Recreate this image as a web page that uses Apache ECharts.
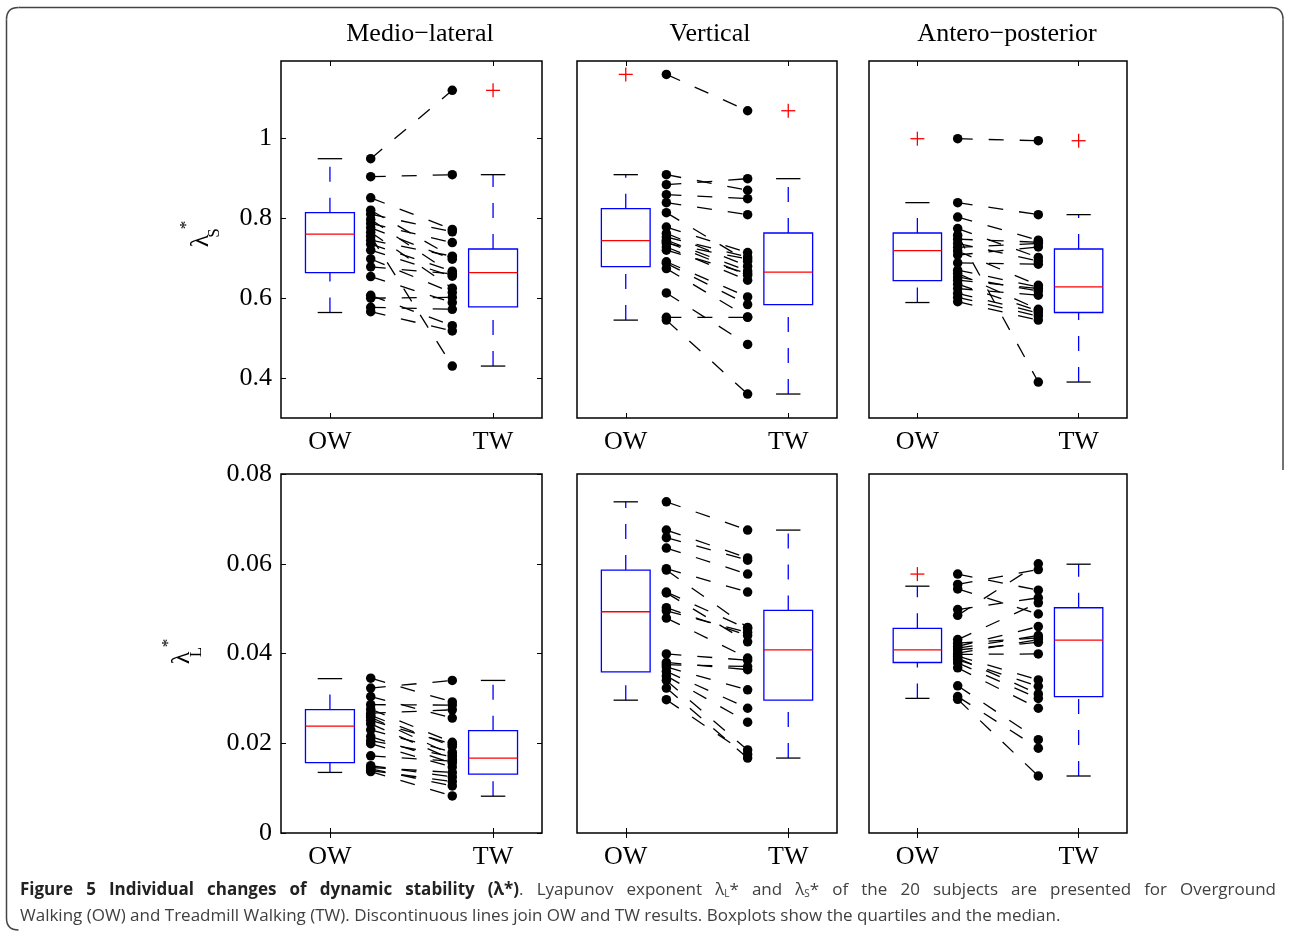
<!DOCTYPE html>
<html>
<head>
<meta charset="utf-8">
<title>Figure 5</title>
<script src="https://cdn.jsdelivr.net/npm/echarts@6/dist/echarts.min.js"></script>
<style>
  html, body { margin: 0; padding: 0; background: #fff; }
  #main { position: absolute; left: 0; top: 0; width: 1289px; height: 934px; }
  #caption {
    position: absolute; left: 20px; top: 876px; width: 1256px;
    font-family: "Open Sans", "Noto Sans", sans-serif; font-size: 17px;
    line-height: 26px; color: #404040;
  }
  #caption .l1 { text-align: justify; text-align-last: justify; }
  #caption b { color: #222; }
  #caption sub { font-size: 10px; vertical-align: -2px; line-height: 0; }
</style>
</head>
<body>
<div id="main"></div>
<div id="caption">
  <div class="l1"><b>Figure 5 Individual changes of dynamic stability (λ*)</b>. Lyapunov exponent λ<sub>L</sub>* and λ<sub>S</sub>* of the 20 subjects are presented for Overground</div>
  <div>Walking (OW) and Treadmill Walking (TW). Discontinuous lines join OW and TW results. Boxplots show the quartiles and the median.</div>
</div>
<script>
// categories and positions along the x axis (OW box at 1, TW box at 2, subject dots between)
var categories = ['OW', 'TW'];
var boxX = [1, 2];
var dotX = [1.25, 1.75];
var panelTitles = ['Medio\u2212lateral', 'Vertical', 'Antero\u2212posterior'];
var yTicksS = [0.4, 0.6, 0.8, 1];
var yTicksL = [0, 0.02, 0.04, 0.06, 0.08];

// lambda_S*, one value per subject (same order in OW and TW)
var owML_S = [0.949, 0.904, 0.851, 0.82, 0.81, 0.797, 0.787, 0.776, 0.765, 0.755, 0.745, 0.735, 0.72, 0.698, 0.678, 0.654, 0.607, 0.600, 0.577, 0.566];
var twML_S = [1.12, 0.909, 0.772, 0.703, 0.766, 0.66, 0.739, 0.6975, 0.625, 0.43, 0.705, 0.6675, 0.655, 0.614, 0.661, 0.589, 0.531, 0.602, 0.572, 0.518];
var owV_S = [1.16, 0.909, 0.884, 0.859, 0.839, 0.814, 0.778, 0.762, 0.753, 0.745, 0.741, 0.737, 0.728, 0.72, 0.691, 0.687, 0.674, 0.613, 0.552, 0.545];
var twV_S = [1.069, 0.87, 0.899, 0.849, 0.809, 0.6925, 0.714, 0.68, 0.703, 0.668, 0.6575, 0.698, 0.645, 0.662, 0.603, 0.584, 0.553, 0.484, 0.552, 0.36];
var owAP_S = [0.999, 0.839, 0.803, 0.774, 0.7575, 0.7475, 0.737, 0.727, 0.718, 0.708, 0.688, 0.67, 0.662, 0.653, 0.645, 0.635, 0.624, 0.612, 0.602, 0.591];
var twAP_S = [0.994, 0.809, 0.745, 0.702, 0.39, 0.74, 0.693, 0.737, 0.632, 0.728, 0.685, 0.628, 0.572, 0.618, 0.624, 0.568, 0.6075, 0.563, 0.555, 0.545];

// lambda_L*
var owML_L = [0.0345, 0.0323, 0.0304, 0.0286, 0.0276, 0.0267, 0.0262, 0.0258, 0.0251, 0.0243, 0.023, 0.0215, 0.0206, 0.0199, 0.0172, 0.015, 0.0146, 0.0143, 0.0139, 0.0137];
var twML_L = [0.0292, 0.034, 0.0256, 0.0285, 0.0202, 0.02745, 0.0193, 0.0174, 0.0198, 0.0164, 0.018, 0.0156, 0.017, 0.0147, 0.016, 0.0125, 0.0135, 0.0105, 0.01145, 0.00826];
var owV_L = [0.0738, 0.0675, 0.0658, 0.0635, 0.0589, 0.0586, 0.0537, 0.0535, 0.0502, 0.0495, 0.0479, 0.0399, 0.038, 0.0375, 0.037, 0.036, 0.035, 0.034, 0.0323, 0.0297];
var twV_L = [0.0675, 0.0613, 0.0608, 0.0577, 0.0537, 0.0458, 0.0455, 0.0426, 0.044, 0.0447, 0.039, 0.0385, 0.0364, 0.0371, 0.0319, 0.0278, 0.0247, 0.0185, 0.0167, 0.0175];
var owAP_L = [0.0577, 0.0554, 0.0544, 0.0498, 0.0485, 0.0431, 0.0423, 0.0416, 0.0412, 0.0408, 0.0401, 0.0398, 0.0394, 0.039, 0.0386, 0.0379, 0.0368, 0.0328, 0.0304, 0.0298];
var twAP_L = [0.0541, 0.0587, 0.0488, 0.0524, 0.06, 0.0513, 0.0435, 0.046, 0.044, 0.0425, 0.0431, 0.0399, 0.0341, 0.031, 0.0327, 0.03, 0.0278, 0.0208, 0.0189, 0.0127];

// boxplots: [lower whisker, Q1, median, Q3, upper whisker]
var boxML_S = [[0.564, 0.664, 0.76, 0.814, 0.949], [0.43, 0.578, 0.664, 0.723, 0.909]];
var boxV_S = [[0.545, 0.679, 0.744, 0.824, 0.909], [0.36, 0.584, 0.665, 0.763, 0.899]];
var boxAP_S = [[0.589, 0.644, 0.719, 0.763, 0.839], [0.39, 0.564, 0.628, 0.723, 0.809]];
var boxML_L = [[0.0135, 0.0157, 0.0238, 0.0275, 0.0344], [0.0082, 0.0131, 0.0167, 0.0228, 0.034]];
var boxV_L = [[0.0296, 0.0359, 0.0493, 0.0586, 0.0738], [0.0167, 0.0296, 0.0408, 0.0496, 0.0675]];
var boxAP_L = [[0.030, 0.038, 0.0408, 0.0456, 0.055], [0.0127, 0.0304, 0.043, 0.0502, 0.0599]];

// outliers [OW list, TW list]
var outML_S = [[], [1.12]];
var outV_S = [[1.16], [1.069]];
var outAP_S = [[0.999], [0.994]];
var outML_L = [[], []];
var outV_L = [[], []];
var outAP_L = [[0.0577], []];

var panels = [
  { ow: owML_S, tw: twML_S, box: boxML_S, out: outML_S },
  { ow: owV_S, tw: twV_S, box: boxV_S, out: outV_S },
  { ow: owAP_S, tw: twAP_S, box: boxAP_S, out: outAP_S },
  { ow: owML_L, tw: twML_L, box: boxML_L, out: outML_L },
  { ow: owV_L, tw: twV_L, box: boxV_L, out: outV_L },
  { ow: owAP_L, tw: twAP_L, box: boxAP_L, out: outAP_L }
];

// layout
var gridLeft = [281, 577, 869];
var gridWidth = [261, 260, 258];
var rowTop = [61, 474];
var rowHeight = [357, 359];
var yRange = [[0.3, 1.1935], [0, 0.08]];
var SERIF = '"Liberation Serif", "Times New Roman", serif';
var BLUE = '#0000ff', RED = '#ff0000';
var DASH = [15, 16];
var BOX_HALF = 0.15, CAP_HALF = 0.075;

function renderBox(params, api) {
  var x = api.value(0);
  var low = api.coord([x, api.value(1)]);
  var q1 = api.coord([x, api.value(2)]);
  var med = api.coord([x, api.value(3)]);
  var q3 = api.coord([x, api.value(4)]);
  var high = api.coord([x, api.value(5)]);
  var hw = api.size([BOX_HALF, 0])[0];
  var cw = api.size([CAP_HALF, 0])[0];
  var cx = med[0];
  var lw = 1.3;
  return { type: 'group', children: [
    { type: 'line', shape: { x1: cx, y1: q3[1], x2: cx, y2: high[1] }, style: { stroke: BLUE, lineWidth: lw, lineDash: DASH } },
    { type: 'line', shape: { x1: cx, y1: low[1], x2: cx, y2: q1[1] }, style: { stroke: BLUE, lineWidth: lw, lineDash: DASH } },
    { type: 'line', shape: { x1: cx - cw, y1: high[1], x2: cx + cw, y2: high[1] }, style: { stroke: '#000', lineWidth: lw } },
    { type: 'line', shape: { x1: cx - cw, y1: low[1], x2: cx + cw, y2: low[1] }, style: { stroke: '#000', lineWidth: lw } },
    { type: 'rect', shape: { x: cx - hw, y: q3[1], width: 2 * hw, height: q1[1] - q3[1] }, style: { fill: 'none', stroke: BLUE, lineWidth: lw } },
    { type: 'line', shape: { x1: cx - hw, y1: med[1], x2: cx + hw, y2: med[1] }, style: { stroke: RED, lineWidth: lw } }
  ] };
}

function renderPair(params, api) {
  var a = api.coord([api.value(0), api.value(1)]);
  var b = api.coord([api.value(2), api.value(3)]);
  return { type: 'line', shape: { x1: a[0], y1: a[1], x2: b[0], y2: b[1] },
    style: { stroke: '#000', lineWidth: 1.3, lineDash: DASH } };
}

function renderPlus(params, api) {
  var p = api.coord([api.value(0), api.value(1)]);
  var s = 7;
  return { type: 'group', children: [
    { type: 'line', shape: { x1: p[0] - s, y1: p[1], x2: p[0] + s, y2: p[1] }, style: { stroke: RED, lineWidth: 1.3 } },
    { type: 'line', shape: { x1: p[0], y1: p[1] - s, x2: p[0], y2: p[1] + s }, style: { stroke: RED, lineWidth: 1.3 } }
  ] };
}

var grids = [], xAxes = [], yAxes = [], series = [];
var tickStyle = { show: true, inside: true, length: 5, lineStyle: { color: '#000', width: 1 } };

panels.forEach(function (p, i) {
  var row = Math.floor(i / 3), col = i % 3;
  var ticks = row === 0 ? yTicksS : yTicksL;
  var withY = col === 0;
  grids.push({ left: gridLeft[col], top: rowTop[row], width: gridWidth[col], height: rowHeight[row],
    show: true, borderColor: '#000', borderWidth: 1.5, backgroundColor: 'transparent' });

  var xBase = { gridIndex: i, type: 'value', min: 0.7, max: 2.3, axisLine: { show: false }, splitLine: { show: false },
    axisTick: Object.assign({ customValues: boxX }, tickStyle) };
  xAxes.push(Object.assign({}, xBase, { position: 'bottom',
    axisLabel: { customValues: boxX, margin: 11, fontFamily: SERIF, fontSize: 26, color: '#000',
      formatter: function (v) { return categories[boxX.indexOf(v)]; } } }));
  xAxes.push(Object.assign({}, xBase, { position: 'top', axisLabel: { show: false } }));

  var yBase = { gridIndex: i, type: 'value', min: yRange[row][0], max: yRange[row][1],
    axisLine: { show: false }, splitLine: { show: false },
    axisTick: withY ? Object.assign({ customValues: ticks }, tickStyle) : { show: false } };
  yAxes.push(Object.assign({}, yBase, { position: 'left',
    axisLabel: withY ? { customValues: ticks, margin: 9, fontFamily: SERIF, fontSize: 26, color: '#000' } : { show: false } }));
  yAxes.push(Object.assign({}, yBase, { position: 'right', axisLabel: { show: false } }));

  var xi = 2 * i, yi = 2 * i;
  series.push({ type: 'custom', xAxisIndex: xi, yAxisIndex: yi, renderItem: renderPair, z: 2,
    encode: { x: [0, 2], y: [1, 3] },
    data: p.ow.map(function (v, k) { return [dotX[0], v, dotX[1], p.tw[k]]; }) });
  series.push({ type: 'scatter', xAxisIndex: xi, yAxisIndex: yi, symbol: 'circle', symbolSize: 9.5, z: 3,
    itemStyle: { color: '#000', opacity: 1 },
    data: p.ow.map(function (v) { return [dotX[0], v]; }).concat(p.tw.map(function (v) { return [dotX[1], v]; })) });
  series.push({ type: 'custom', xAxisIndex: xi, yAxisIndex: yi, renderItem: renderBox, z: 2,
    encode: { x: 0, y: [1, 2, 3, 4, 5] },
    data: p.box.map(function (b, k) { return [boxX[k]].concat(b); }) });
  var outs = [];
  p.out.forEach(function (list, k) { list.forEach(function (v) { outs.push([boxX[k], v]); }); });
  series.push({ type: 'custom', xAxisIndex: xi, yAxisIndex: yi, renderItem: renderPlus, z: 2, data: outs });
});

function yLabel(x, y, sub, supOff, subOff) {
  var f = function (size) { return size + 'px ' + SERIF; };
  return { type: 'group', x: x, y: y, rotation: Math.PI / 2, children: [
    { type: 'text', x: 0, y: 0, style: { text: '\u03bb', font: f(26), fill: '#000', textAlign: 'center', textVerticalAlign: 'middle' } },
    { type: 'text', x: supOff[0], y: supOff[1], style: { text: '*', font: f(17), fill: '#000', textAlign: 'center', textVerticalAlign: 'middle' } },
    { type: 'text', x: subOff[0], y: subOff[1], style: { text: sub, font: f(17), fill: '#000', textAlign: 'center', textVerticalAlign: 'middle' } }
  ] };
}

var frameStyle = { stroke: '#444', lineWidth: 1.5, fill: 'none' };
var graphics = [
  { type: 'polyline', shape: { points: [[6.5, 918], [6.5, 19.5]] }, style: frameStyle, silent: true },
  { type: 'bezierCurve', shape: { x1: 6.5, y1: 19.5, cpx1: 6.5, cpy1: 7.5, x2: 18.5, y2: 7.5 }, style: frameStyle, silent: true },
  { type: 'polyline', shape: { points: [[18.5, 7.5], [1271, 7.5]] }, style: frameStyle, silent: true },
  { type: 'bezierCurve', shape: { x1: 1271, y1: 7.5, cpx1: 1283, cpy1: 7.5, x2: 1283, y2: 19.5 }, style: frameStyle, silent: true },
  { type: 'polyline', shape: { points: [[1283, 19.5], [1283, 470]] }, style: frameStyle, silent: true },
  { type: 'bezierCurve', shape: { x1: 6.5, y1: 918, cpx1: 6.5, cpy1: 930, x2: 18.5, y2: 930 }, style: frameStyle, silent: true },
  yLabel(201, 241, 'S', [16, -14], [8, 14]),
  yLabel(182, 658, 'L', [15, -13], [6, 15])
];
var titleX = [420, 710, 1007];
panelTitles.forEach(function (t, c) {
  graphics.push({ type: 'text', x: titleX[c], y: 34,
    style: { text: t, font: '26px ' + SERIF, fill: '#000', textAlign: 'center', textVerticalAlign: 'middle' } });
});

var chart = echarts.init(document.getElementById('main'), null, { renderer: 'canvas' });
chart.setOption({
  animation: false,
  backgroundColor: '#fff',
  grid: grids,
  xAxis: xAxes,
  yAxis: yAxes,
  series: series,
  graphic: graphics
});
</script>
</body>
</html>
